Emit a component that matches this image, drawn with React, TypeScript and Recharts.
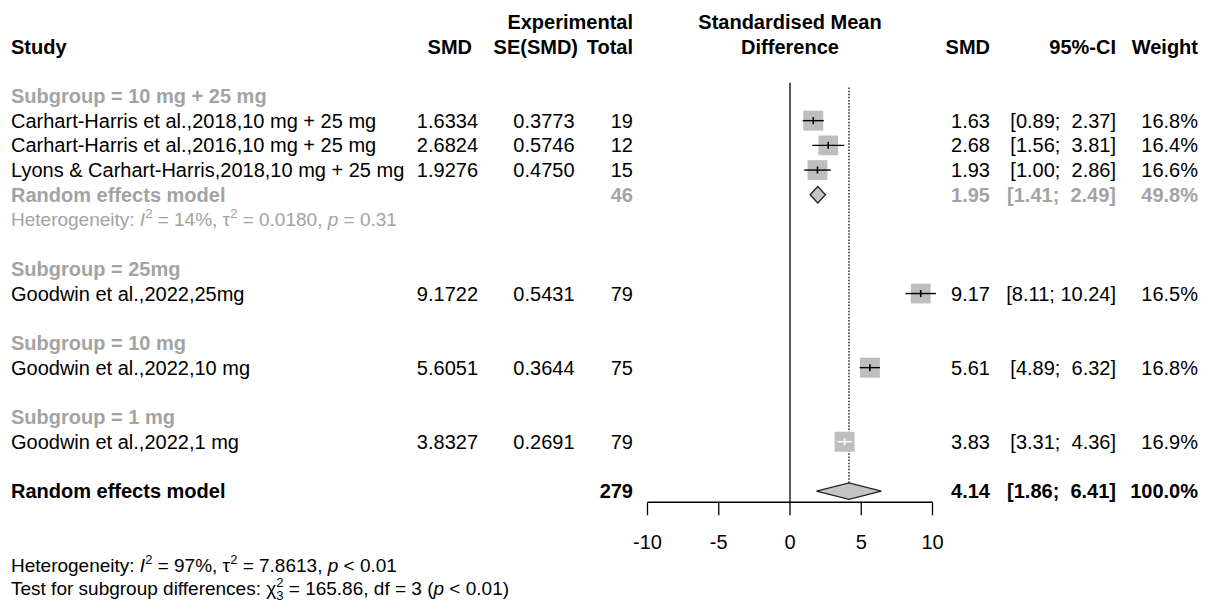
import { ComposedChart, ReferenceLine, Scatter, XAxis, YAxis } from 'recharts';

const studyLabels = [
  'Carhart-Harris et al.,2018,10 mg + 25 mg',
  'Carhart-Harris et al.,2016,10 mg + 25 mg',
  'Lyons & Carhart-Harris,2018,10 mg + 25 mg',
  'Goodwin et al.,2022,25mg',
  'Goodwin et al.,2022,10 mg',
  'Goodwin et al.,2022,1 mg',
];
const studyGroup = [0, 0, 0, 1, 2, 3];
const studySmd = [1.6334, 2.6824, 1.9276, 9.1722, 5.6051, 3.8327];
const studySe = [0.3773, 0.5746, 0.475, 0.5431, 0.3644, 0.2691];
const studyTotal = [19, 12, 15, 79, 75, 79];
const studyLow = [0.89, 1.56, 1.0, 8.11, 4.89, 3.31];
const studyHigh = [2.37, 3.81, 2.86, 10.24, 6.32, 4.36];
const studyWeight = [16.8, 16.4, 16.6, 16.5, 16.8, 16.9];

const groupLabels = ['10 mg + 25 mg', '25mg', '10 mg', '1 mg'];
// only the first subgroup has more than one study, so only it gets a pooled row
const pooledGroup = 0;
const pooledEst = 1.95;
const pooledLow = 1.41;
const pooledHigh = 2.49;
const pooledTotal = 46;
const pooledWeight = 49.8;
const pooledHet = { i2: '14%', tau2: '0.0180', p: '= 0.31' };

const overallEst = 4.14;
const overallLow = 1.86;
const overallHigh = 6.41;
const overallTotal = 279;
const overallWeight = 100.0;
const overallHet = { i2: '97%', tau2: '7.8613', p: '< 0.01' };
const subgroupTest = { chi2: '165.86', df: 3, p: '< 0.01' };

const xTicks = [-10, -5, 0, 5, 10];

// layout
const W = 1209;
const H = 603;
const X_MIN = -10;
const X_MAX = 10.3;
const PX_PER_UNIT = 14.25;
const PLOT_LEFT = 647.5;
const PLOT_W = (X_MAX - X_MIN) * PX_PER_UNIT;
const Y_MIN = -3.5;
const Y_MAX = 20.5;
const ROW_PX = 24.7;
const TOP = 9.5;
const BOX = 20;
const DIAMOND_H = 0.335;
const FONT = "'Liberation Sans', Arial, Helvetica, sans-serif";
const GRAY = '#a3a3a3';
const COL = { study: 11, smd: 478, smdHead: 472, se: 574.5, seHead: 578, total: 633, est: 990, ci: 1116, weight: 1198 };

type Row = { y: number; kind: string; i?: number; g?: number };
const rows: Row[] = [{ y: -3, kind: 'head1' }, { y: -2, kind: 'head2' }];
const studyRow: number[] = [];
let pooledRow = 0;
let r = 0;
groupLabels.forEach((_, g) => {
  rows.push({ y: r++, kind: 'group', g });
  studyGroup.forEach((sg, i) => {
    if (sg !== g) return;
    studyRow[i] = r;
    rows.push({ y: r++, kind: 'study', i });
  });
  if (g === pooledGroup) {
    pooledRow = r;
    rows.push({ y: r++, kind: 'pooled' });
    rows.push({ y: r++, kind: 'het' });
  }
  r++;
});
const overallRow = r;
rows.push({ y: overallRow, kind: 'overall' });
const axisRow = overallRow + 0.45;
rows.push({ y: overallRow + 3, kind: 'footHet' });
rows.push({ y: overallRow + 4, kind: 'footTest' });

const maxWeight = Math.max(...studyWeight);
const boxSize = (w: number) => BOX * Math.sqrt(w / maxWeight);

const studies = studySmd.map((x, i) => ({
  x,
  y: studyRow[i],
  w: studyWeight[i],
  // CI drawn white when it sits inside its box
  light: (studyHigh[i] - studyLow[i]) * PX_PER_UNIT < boxSize(studyWeight[i]),
}));
const ciSegments = studies.map((s, i) => [
  { x: studyLow[i], y: s.y },
  { x: studyHigh[i], y: s.y },
]);

const diamond = (est: number, lo: number, hi: number, y: number) => [
  { x: lo, y },
  { x: est, y: y - DIAMOND_H },
  { x: hi, y },
  { x: est, y: y + DIAMOND_H },
];
const pooledDiamond = diamond(pooledEst, pooledLow, pooledHigh, pooledRow);
const overallDiamond = diamond(overallEst, overallLow, overallHigh, overallRow);

const tickPoints = xTicks.map((t) => ({ x: t, y: axisRow }));
const textPoints = rows.map((row) => ({ x: 0, y: row.y, row }));

const fmtCi = (lo: number, hi: number) => `[${lo.toFixed(2)}; ${hi.toFixed(2).padStart(5, ' ')}]`;

function T({ x, y, anchor = 'end', bold = false, color = '#000', size = 20, children }: any) {
  return (
    <text
      x={x}
      y={y}
      textAnchor={anchor}
      fontFamily={FONT}
      fontSize={size}
      fontWeight={bold ? 'bold' : 'normal'}
      fill={color}
      style={{ whiteSpace: 'pre' }}
    >
      {children}
    </text>
  );
}

function HetText({ y, color, het }: any) {
  return (
    <T x={COL.study} y={y} anchor="start" size={19} color={color}>
      Heterogeneity: <tspan fontStyle="italic">I</tspan>
      <tspan dy={-8} fontSize={13}>2</tspan>
      <tspan dy={8}>{` = ${het.i2}, τ`}</tspan>
      <tspan dy={-8} fontSize={13}>2</tspan>
      <tspan dy={8}>{` = ${het.tau2}, `}</tspan>
      <tspan fontStyle="italic">p</tspan>
      {` ${het.p}`}
    </T>
  );
}

function renderRow(row: Row, cx: number, cy: number) {
  const b = cy + 7;
  switch (row.kind) {
    case 'head1':
      return (
        <g>
          <T x={COL.total} y={b} bold>Experimental</T>
          <T x={cx} y={b} bold anchor="middle">Standardised Mean</T>
        </g>
      );
    case 'head2':
      return (
        <g>
          <T x={COL.study} y={b} bold anchor="start">Study</T>
          <T x={COL.smdHead} y={b} bold>SMD</T>
          <T x={COL.seHead} y={b} bold>SE(SMD)</T>
          <T x={COL.total} y={b} bold>Total</T>
          <T x={cx} y={b} bold anchor="middle">Difference</T>
          <T x={COL.est} y={b} bold>SMD</T>
          <T x={COL.ci} y={b} bold>95%-CI</T>
          <T x={COL.weight} y={b} bold>Weight</T>
        </g>
      );
    case 'group':
      return (
        <T x={COL.study} y={b} bold anchor="start" color={GRAY}>
          {`Subgroup = ${groupLabels[row.g!]}`}
        </T>
      );
    case 'study': {
      const i = row.i!;
      return (
        <g>
          <T x={COL.study} y={b} anchor="start">{studyLabels[i]}</T>
          <T x={COL.smd} y={b}>{studySmd[i].toFixed(4)}</T>
          <T x={COL.se} y={b}>{studySe[i].toFixed(4)}</T>
          <T x={COL.total} y={b}>{studyTotal[i]}</T>
          <T x={COL.est} y={b}>{studySmd[i].toFixed(2)}</T>
          <T x={COL.ci} y={b}>{fmtCi(studyLow[i], studyHigh[i])}</T>
          <T x={COL.weight} y={b}>{`${studyWeight[i].toFixed(1)}%`}</T>
        </g>
      );
    }
    case 'pooled':
    case 'overall': {
      const pooled = row.kind === 'pooled';
      const c = pooled ? GRAY : '#000';
      return (
        <g>
          <T x={COL.study} y={b} anchor="start" bold color={c}>Random effects model</T>
          <T x={COL.total} y={b} bold color={c}>{pooled ? pooledTotal : overallTotal}</T>
          <T x={COL.est} y={b} bold color={c}>{(pooled ? pooledEst : overallEst).toFixed(2)}</T>
          <T x={COL.ci} y={b} bold color={c}>
            {pooled ? fmtCi(pooledLow, pooledHigh) : fmtCi(overallLow, overallHigh)}
          </T>
          <T x={COL.weight} y={b} bold color={c}>{`${(pooled ? pooledWeight : overallWeight).toFixed(1)}%`}</T>
        </g>
      );
    }
    case 'het':
      return <HetText y={cy + 6.5} color={GRAY} het={pooledHet} />;
    case 'footHet':
      return <HetText y={cy + 6.5} color="#000" het={overallHet} />;
    case 'footTest':
      return (
        <T x={COL.study} y={cy + 5.5} anchor="start" size={19}>
          {'Test for subgroup differences: χ'}
          <tspan dy={-8} fontSize={13}>2</tspan>
          <tspan dx={-7.2} dy={13} fontSize={13}>3</tspan>
          <tspan dy={-5}>{` = ${subgroupTest.chi2}, df = ${subgroupTest.df} (`}</tspan>
          <tspan fontStyle="italic">p</tspan>
          {` ${subgroupTest.p})`}
        </T>
      );
    default:
      return <g />;
  }
}

const none = () => <g />;

export default function App() {
  return (
    <div style={{ position: 'absolute', left: 0, top: 0, width: W, height: H, background: '#fff' }}>
      <ComposedChart
        width={W}
        height={H}
        margin={{
          top: TOP,
          bottom: H - TOP - (Y_MAX - Y_MIN) * ROW_PX,
          left: PLOT_LEFT,
          right: W - PLOT_LEFT - PLOT_W,
        }}
      >
        <XAxis type="number" dataKey="x" domain={[X_MIN, X_MAX]} hide />
        <YAxis type="number" dataKey="y" domain={[Y_MIN, Y_MAX]} reversed hide />
        <ReferenceLine
          segment={[{ x: 0, y: -0.53 }, { x: 0, y: axisRow }]}
          stroke="#000"
          strokeWidth={1.3}
        />
        <ReferenceLine
          segment={[{ x: overallEst, y: -0.34 }, { x: overallEst, y: overallRow - DIAMOND_H }]}
          stroke="#000"
          strokeWidth={1.3}
          strokeDasharray="1.5 1.6"
        />
        <ReferenceLine
          segment={[{ x: xTicks[0], y: axisRow }, { x: xTicks[xTicks.length - 1], y: axisRow }]}
          stroke="#000"
          strokeWidth={1.3}
        />
        <Scatter
          data={tickPoints}
          isAnimationActive={false}
          shape={(p: any) => (
            <g>
              <line x1={p.cx} x2={p.cx} y1={p.cy} y2={p.cy + 13} stroke="#000" strokeWidth={1.3} />
              <T x={p.cx} y={p.cy + 46.4} anchor="middle">{p.payload.x}</T>
            </g>
          )}
        />
        <Scatter
          data={studies}
          isAnimationActive={false}
          shape={(p: any) => {
            const s = boxSize(p.payload.w);
            return <rect x={p.cx - s / 2} y={p.cy - s / 2} width={s} height={s} fill="#bebebe" />;
          }}
        />
        {ciSegments.map((seg, i) => (
          <Scatter
            key={`ci${i}`}
            data={seg}
            isAnimationActive={false}
            shape={none}
            line={{ stroke: studies[i].light ? '#fff' : '#000', strokeWidth: 1.4 }}
          />
        ))}
        <Scatter
          data={studies}
          isAnimationActive={false}
          shape={(p: any) => (
            <line
              x1={p.cx}
              x2={p.cx}
              y1={p.cy - 3.5}
              y2={p.cy + 3.5}
              stroke={p.payload.light ? '#fff' : '#000'}
              strokeWidth={1.6}
            />
          )}
        />
        {[pooledDiamond, overallDiamond].map((d, k) => (
          <Scatter
            key={`d${k}`}
            data={d}
            isAnimationActive={false}
            shape={none}
            line={(lp: any) => (
              <polygon
                points={lp.points.map((pt: any) => `${pt.x},${pt.y}`).join(' ')}
                fill="#c4c4c4"
                stroke="#222"
                strokeWidth={1.3}
              />
            )}
          />
        ))}
        <Scatter
          data={textPoints}
          isAnimationActive={false}
          shape={(p: any) => renderRow(p.payload.row, p.cx, p.cy)}
        />
      </ComposedChart>
    </div>
  );
}
